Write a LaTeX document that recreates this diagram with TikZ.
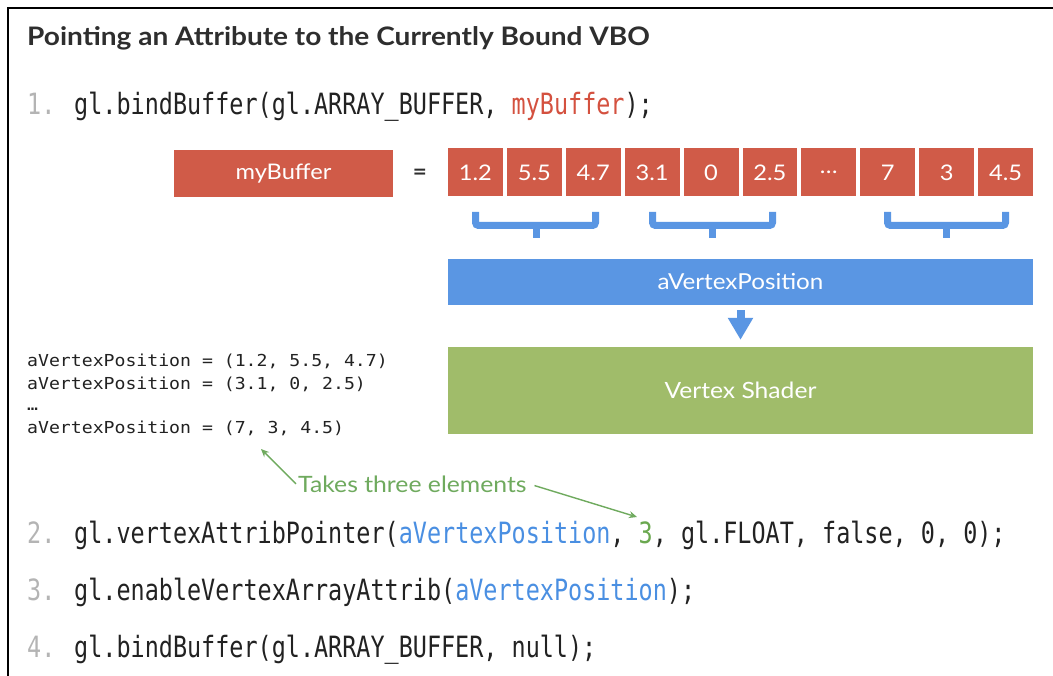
\documentclass[tikz,border=0pt]{standalone}
\usepackage{fontspec}
\setmainfont[FakeStretch=1.1]{Lato}
\newfontfamily\titlefont[FakeStretch=1.1]{Lato}
\newfontfamily\codefont[FakeStretch=0.8]{DejaVu Sans Mono}
\newfontfamily\smallcodefont[FakeStretch=1.1]{DejaVu Sans Mono}
\usetikzlibrary{arrows.meta}
\definecolor{bred}{HTML}{D05B48}
\definecolor{bblue}{HTML}{5A96E3}
\definecolor{bgreen}{HTML}{A0BC6A}
\definecolor{cred}{HTML}{D4513F}
\definecolor{cblue}{HTML}{4A8FE2}
\definecolor{cgreen}{HTML}{6AA84F}
\definecolor{lgreen}{HTML}{6FAA5E}
\definecolor{numgray}{HTML}{B4B4B4}
\definecolor{ink}{HTML}{222222}
\definecolor{titleink}{HTML}{2E2E2E}
\newcommand{\us}{{\char"5F}}
\begin{document}
\begin{tikzpicture}[x=1pt,y=-1pt,
  code/.style={anchor=base west, inner sep=0, text=ink, font=\codefont\fontsize{29.3}{32}\selectfont},
  smallcode/.style={anchor=base west, inner sep=0, text=ink, font=\smallcodefont\fontsize{16.5}{18}\selectfont},
  redbox/.style={fill=bred, text=white, inner sep=0, font=\fontsize{21.5}{24}\selectfont},
  cell/.style={redbox, minimum width=54.9pt, minimum height=48pt},
  bracket/.style={draw=bblue, line width=7pt, rounded corners=3pt},
  wide/.style={inner sep=0, text=white, minimum width=585pt, font=\fontsize{22}{26}\selectfont},
  note/.style={-{Stealth[length=8pt,width=7pt]}, draw=lgreen, line width=1.4pt}
]
\useasboundingbox (0,0) rectangle (1053,676);
\fill[white] (0,0) rectangle (1053,676);
\draw[line width=2.5pt] (1053,8) -- (8,8) -- (8,676);

\node[anchor=base west, inner sep=0, text=titleink, font=\titlefont\fontsize{25.5}{30}\selectfont\bfseries] (title) at (27,46) {Pointing an Attribute to the Currently Bound VBO};

\node[code] (l1) at (27,115) {\textcolor{numgray}{1.} gl.bindBuffer(gl.ARRAY\us BUFFER, \textcolor{cred}{myBuffer});};

\node[redbox, minimum width=219pt, minimum height=47pt] (buf) at (283.5,173.5) {myBuffer};
\node[text=titleink, inner sep=0, font=\fontsize{22}{26}\selectfont\bfseries] (eq) at (420,174) {=};

\foreach \v [count=\i from 0] in {1.2,5.5,4.7,3.1,0,2.5,\dots,7,3,4.5}{
  \node[cell] (c\i) at (475.45+\i*58.9,172.5) {\v};
}

\draw[bracket] (475.5,212) -- (475.5,225.5) -- (595.5,225.5) -- (595.5,212);
\draw[bracket] (536,225.5) -- (536,238);
\draw[bracket] (652.5,212) -- (652.5,225.5) -- (772.5,225.5) -- (772.5,212);
\draw[bracket] (712,225.5) -- (712,238);
\draw[bracket] (887.5,212) -- (887.5,225.5) -- (1005.5,225.5) -- (1005.5,212);
\draw[bracket] (946,225.5) -- (946,238);

\node[wide, fill=bblue, minimum height=46pt] (attr) at (740.5,282) {aVertexPosition};
\node[wide, fill=bgreen, minimum height=87pt, font=\fontsize{22.4}{26}\selectfont] (shader) at (740.5,390.5) {Vertex Shader};
\draw[bblue, line width=8pt, shorten <=5pt, shorten >=7pt, -{Triangle[length=22pt,width=24pt]}] (attr) -- (shader);

\node[smallcode] (p1) at (27,367) {aVertexPosition = (1.2, 5.5, 4.7)};
\node[smallcode] (p2) at (27,390) {aVertexPosition = (3.1, 0, 2.5)};
\node[smallcode] (p3) at (27,411) {…};
\node[smallcode] (p4) at (27,433) {aVertexPosition = (7, 3, 4.5)};

\node[anchor=base west, inner sep=2pt, text=lgreen, font=\fontsize{22.5}{26}\selectfont] (lbl) at (296,492) {Takes three elements};
\coordinate (t1) at (261,449);
\coordinate (t2) at (637,517);
\draw[note] (lbl.west) -- (t1);
\draw[note, shorten <=6pt] (lbl.east) -- (t2);

\node[code] (l2) at (27,543) {\textcolor{numgray}{2.} gl.vertexAttribPointer(\textcolor{cblue}{aVertexPosition}, \textcolor{cgreen}{3}, gl.FLOAT, false, 0, 0);};
\node[code] (l3) at (27,600) {\textcolor{numgray}{3.} gl.enableVertexArrayAttrib(\textcolor{cblue}{aVertexPosition});};
\node[code] (l4) at (27,657) {\textcolor{numgray}{4.} gl.bindBuffer(gl.ARRAY\us BUFFER, null);};
\end{tikzpicture}
\end{document}
